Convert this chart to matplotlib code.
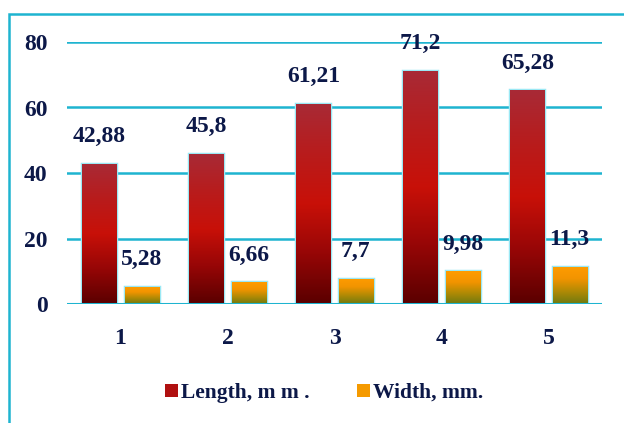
import numpy as np
import matplotlib
matplotlib.use("Agg")
import matplotlib.pyplot as plt
from matplotlib.colors import LinearSegmentedColormap
from matplotlib.patches import Patch, Rectangle

# Data
categories = ["1", "2", "3", "4", "5"]
length_mm = [42.88, 45.8, 61.21, 71.2, 65.28]
width_mm = [5.28, 6.66, 7.7, 9.98, 11.3]
length_labels = ["42,88", "45,8", "61,21", "71,2", "65,28"]
width_labels = ["5,28", "6,66", "7,7", "9,98", "11,3"]

text_color = "#0C1848"
grid_color = "#1EB4D0"
glow_color = "#9AE8F4"

# gradients, bottom -> top
red_cmap = LinearSegmentedColormap.from_list(
    "red", ["#5A0000", "#960606", "#C81008", "#B81C1C", "#A82A36"])
orange_cmap = LinearSegmentedColormap.from_list(
    "orange", ["#6E7A10", "#B08A05", "#F29400", "#FF9C00"])

plt.rcParams["font.family"] = ["Liberation Serif", "DejaVu Serif"]
plt.rcParams["font.weight"] = "bold"

fig = plt.figure(figsize=(6.24, 4.23), dpi=100)
ax = fig.add_axes([67 / 624, 1 - 304 / 423, 535 / 624, 262 / 423])

x = np.arange(len(categories))
bw = 0.32
gap = 0.075

grad = np.linspace(0, 1, 256).reshape(-1, 1)


def gradient_bars(vals, offset, cmap):
    bars = ax.bar(x + offset, vals, bw, color=cmap(0.5), edgecolor=glow_color,
                  linewidth=2.5, zorder=2)
    for b in bars:
        bx, by = b.get_x(), b.get_y()
        im = ax.imshow(grad, extent=[bx, bx + b.get_width(), by, by + b.get_height()],
                       origin="lower", cmap=cmap, aspect="auto", zorder=3)
        im.set_clip_path(b)
    return bars


left_off = -(bw + gap) / 2
right_off = (bw + gap) / 2
gradient_bars(length_mm, left_off, red_cmap)
gradient_bars(width_mm, right_off, orange_cmap)

for i in range(len(categories)):
    ax.annotate(length_labels[i], (x[i] + left_off, length_mm[i]), xytext=(0, 12),
                textcoords="offset points", ha="center", va="bottom",
                fontsize=17, fontweight="bold", color=text_color, zorder=5)
    ax.annotate(width_labels[i], (x[i] + right_off, width_mm[i]), xytext=(0, 12),
                textcoords="offset points", ha="center", va="bottom",
                fontsize=17, fontweight="bold", color=text_color, zorder=5)

ax.set_xlim(-0.5, len(categories) - 0.5)
ax.set_ylim(0, 80)
ax.set_yticks([0, 20, 40, 60, 80])
ax.set_xticks(x)
ax.set_xticklabels(categories)
for yv in [20, 40, 60, 80]:
    ax.axhline(yv, color=grid_color, linewidth=1.8, zorder=1)
ax.axhline(0, color=grid_color, linewidth=2.2, zorder=4)

for s in ax.spines.values():
    s.set_visible(False)
ax.tick_params(axis="both", length=0, labelsize=17, labelcolor=text_color)
ax.tick_params(axis="x", pad=17)
ax.tick_params(axis="y", pad=14)

# outer frame
fig.patches.append(Rectangle((9 / 624, -0.1), 1.2, 1 - 14 / 423 + 0.1,
                             transform=fig.transFigure, fill=False,
                             edgecolor=grid_color, linewidth=1.8))

handles = [Patch(facecolor="#B01010", edgecolor="none", label="Length, m m ."),
           Patch(facecolor="#F59A00", edgecolor="none", label="Width, mm.")]
fig.legend(handles=handles, loc="center", bbox_to_anchor=(0.52, 1 - 393 / 423),
           ncol=2, frameon=False, fontsize=15.5, handlelength=0.6, handleheight=0.6,
           handletextpad=0.15, columnspacing=2.2, labelcolor=text_color)

fig.savefig("out.png", dpi=100)
